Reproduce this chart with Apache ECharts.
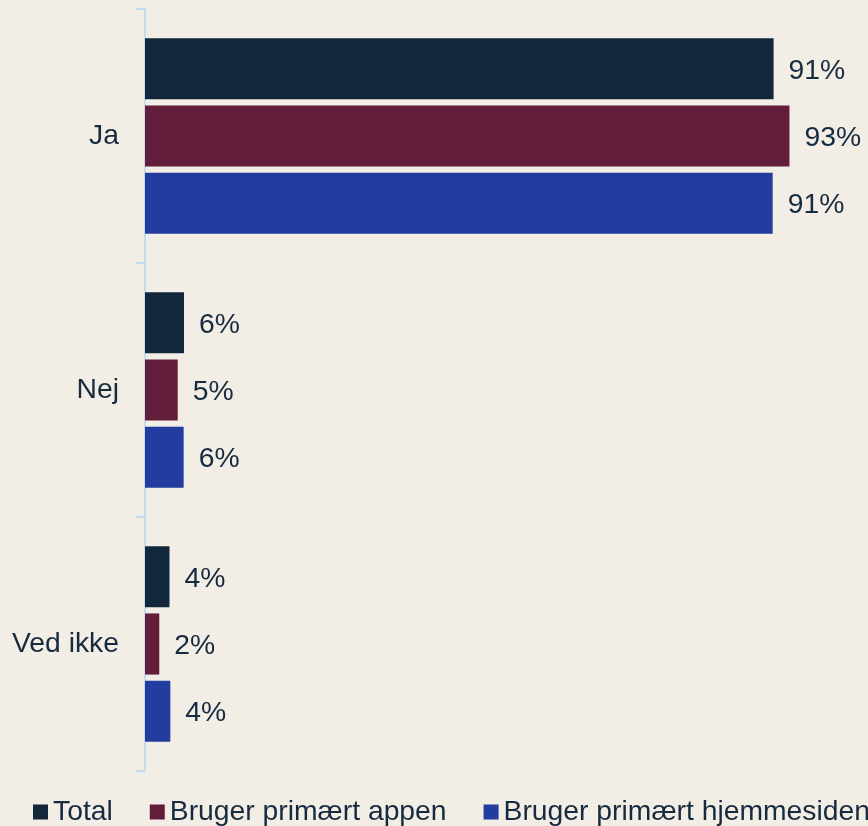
<!DOCTYPE html>
<html>
<head>
<meta charset="utf-8">
<script src="https://cdn.jsdelivr.net/npm/echarts@6/dist/echarts.min.js"></script>
<style>
html,body{margin:0;padding:0;background:#f2ede5;}
#c{width:868px;height:826px;}
</style>
</head>
<body>
<div id="c"></div>
<script>
var categories = ["Ja", "Nej", "Ved ikke"];
var seriesNames = ["Total", "Bruger primært appen", "Bruger primært hjemmesiden"];
var totalValues = [91.1, 5.65, 3.55];
var appValues = [93.4, 4.74, 2.07];
var webValues = [90.97, 5.6, 3.67];
var colors = ["#12273c", "#621d3b", "#233c9f"];

var textColor = "#172b40";
var font = "Liberation Sans, Arial, sans-serif";
var axisColor = "#c6dbee";
var fs = 28.3;

function mk(name, data, color) {
  return {
    name: name,
    type: "bar",
    data: data,
    barGap: "10%",
    barCategoryGap: "23%",
    itemStyle: { color: color },
    label: {
      show: true,
      position: "right",
      distance: 15,
      offset: [0, 2],
      color: textColor,
      fontFamily: font,
      fontSize: fs,
      formatter: function (p) { return Math.round(p.value) + "%"; }
    }
  };
}

var chart = echarts.init(document.getElementById("c"));
chart.setOption({
  backgroundColor: "#f2ede5",
  animation: false,
  grid: { left: 145, right: 33, top: 9, bottom: 55, containLabel: false },
  xAxis: {
    type: "value",
    min: 0,
    max: 100,
    show: false
  },
  yAxis: {
    type: "category",
    data: categories,
    inverse: true,
    axisLine: { show: true, lineStyle: { color: axisColor, width: 2 } },
    axisTick: { show: true, length: 9, lineStyle: { color: axisColor, width: 2 } },
    axisLabel: { color: textColor, fontFamily: font, fontSize: fs, margin: 26 },
    splitLine: { show: false }
  },
  legend: {
    data: seriesNames,
    left: 33,
    top: 797,
    width: 900,
    padding: 0,
    itemWidth: 15,
    itemHeight: 15,
    itemGap: 37,
    icon: "rect",
    textStyle: { color: textColor, fontFamily: font, fontSize: fs, lineHeight: 30 }
  },
  series: [
    mk(seriesNames[0], totalValues, colors[0]),
    mk(seriesNames[1], appValues, colors[1]),
    mk(seriesNames[2], webValues, colors[2])
  ]
});
</script>
</body>
</html>
